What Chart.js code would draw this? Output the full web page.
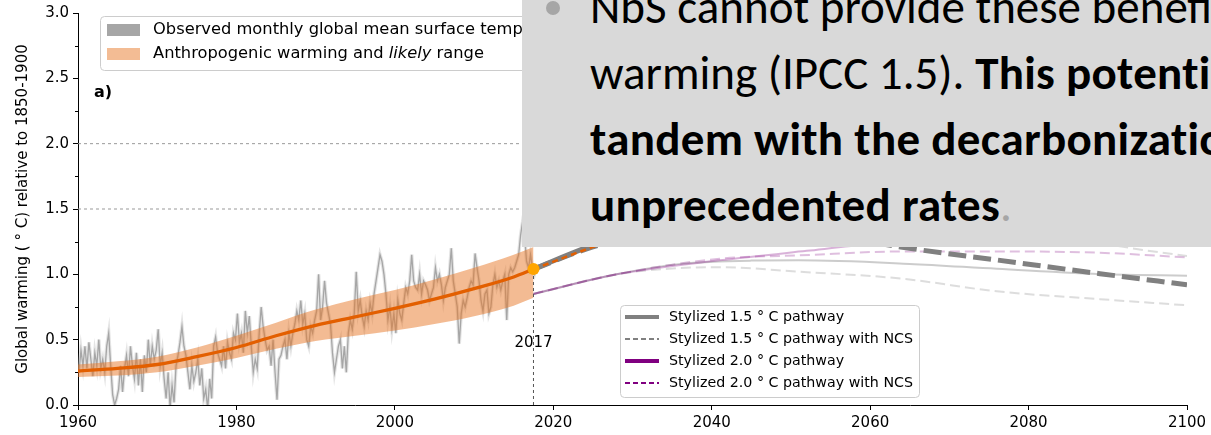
<!DOCTYPE html>
<html>
<head>
<meta charset="utf-8">
<script src="https://cdn.jsdelivr.net/npm/chart.js@4.4.1/dist/chart.umd.min.js"></script>
<style>
  html, body { margin: 0; padding: 0; background: #fff; overflow: hidden; }
  #wrap { position: relative; width: 1211px; height: 435px; }
  #slide {
    position: absolute; left: 522px; top: 0; width: 689px; height: 247px;
    background: #d9d9d9; overflow: hidden; color: #000;
    font-family: Carlito, Calibri, Lato, sans-serif; font-size: 47px;
  }
  #slide .ln { position: absolute; left: 68px; white-space: nowrap; line-height: 1; }
  #slide .bullet { position: absolute; left: 24px; top: 1px; width: 14px; height: 14px; border-radius: 50%; background: #a6a6a6; }
  #slide b { font-weight: 700; letter-spacing: 0.3px; }
</style>
</head>
<body>
<div id="wrap">
  <canvas id="chart" width="1211" height="435"></canvas>
  <div id="slide">
    <div class="bullet"></div>
    <div class="ln" style="top:-16px">NbS cannot provide these benefits alone to limit</div>
    <div class="ln" style="top:50px">warming (IPCC 1.5). <b>This potential must be realized in</b></div>
    <div class="ln" style="top:116px"><b>tandem with the decarbonization of the economy</b></div>
    <div class="ln" style="top:182px"><b>unprecedented rates</b><span style="color:#a6a6a6">.</span></div>
  </div>
</div>
<script>
// Observed global mean surface temperature (4 values per year)
const obsFirstYear = 1960;
const obsQuarterly = [
  [0.25, 0.42, 0.30, 0.45], // 1960
  [0.28, 0.48, 0.35, 0.22],
  [0.40, 0.30, 0.50, 0.28],
  [0.35, 0.25, 0.45, 0.55],
  [0.30, 0.08, 0.00, 0.05],
  [0.12, 0.30, 0.10, 0.28], // 1965
  [0.38, 0.22, 0.45, 0.30],
  [0.20, 0.40, 0.15, 0.35],
  [0.10, 0.38, 0.25, 0.50],
  [0.30, 0.45, 0.35, 0.42],
  [0.58, 0.30, 0.40, 0.20], // 1970
  [0.05, 0.25, -0.02, 0.15],
  [0.02, 0.30, 0.38, 0.48],
  [0.60, 0.45, 0.38, 0.25],
  [0.12, 0.30, 0.18, 0.25],
  [0.35, 0.15, 0.28, 0.05], // 1975
  [0.12, -0.03, 0.20, 0.05],
  [0.45, 0.52, 0.40, 0.35],
  [0.30, 0.45, 0.28, 0.48],
  [0.40, 0.35, 0.55, 0.50],
  [0.70, 0.48, 0.55, 0.40], // 1980
  [0.72, 0.55, 0.68, 0.45],
  [0.25, 0.35, 0.28, 0.55],
  [0.75, 0.60, 0.50, 0.42],
  [0.45, 0.30, 0.50, 0.25],
  [0.04, 0.35, 0.38, 0.45], // 1985
  [0.50, 0.35, 0.55, 0.45],
  [0.55, 0.62, 0.72, 0.65],
  [0.80, 0.62, 0.70, 0.50],
  [0.45, 0.60, 0.55, 0.65],
  [0.72, 1.00, 0.65, 0.75], // 1990
  [0.95, 0.78, 0.70, 0.62],
  [0.40, 0.25, 0.35, 0.45],
  [0.50, 0.28, 0.45, 0.25],
  [0.55, 0.65, 0.58, 0.70],
  [1.02, 0.72, 0.80, 0.68], // 1995
  [0.60, 0.72, 0.65, 0.78],
  [0.70, 0.85, 0.95, 1.05],
  [1.15, 1.10, 1.00, 0.85],
  [0.65, 0.75, 0.58, 0.70],
  [0.55, 0.80, 0.70, 0.65], // 2000
  [0.78, 0.90, 0.85, 0.95],
  [1.15, 0.95, 0.90, 0.88],
  [1.00, 0.85, 0.95, 0.92],
  [0.88, 0.80, 0.85, 0.90],
  [1.05, 0.95, 1.00, 0.92], // 2005
  [0.80, 0.90, 0.95, 1.00],
  [1.20, 0.95, 0.85, 0.75],
  [0.47, 0.70, 0.80, 0.75],
  [0.82, 0.90, 0.95, 0.92],
  [1.16, 1.05, 0.95, 0.80], // 2010
  [0.72, 0.85, 0.88, 0.70],
  [0.75, 0.92, 1.00, 0.90],
  [0.95, 0.88, 0.95, 1.00],
  [0.65, 1.00, 1.05, 1.02],
  [1.05, 1.10, 1.15, 1.30], // 2015
  [1.40, 1.30, 1.10, 1.05],
  [1.15, 1.05, 1.00, 1.05]
];

// Anthropogenic warming and likely range
const anthroYears = [1960, 1965, 1970, 1975, 1980, 1985, 1990, 1995, 2000, 2005, 2010, 2015, 2017.5];
const anthroMid = [0.26, 0.28, 0.31, 0.37, 0.44, 0.53, 0.61, 0.675, 0.74, 0.81, 0.89, 0.98, 1.04];
const anthroLo = [0.215, 0.225, 0.25, 0.30, 0.36, 0.43, 0.49, 0.53, 0.57, 0.62, 0.68, 0.76, 0.82];
const anthroHi = [0.31, 0.335, 0.37, 0.44, 0.53, 0.63, 0.73, 0.81, 0.88, 0.96, 1.05, 1.15, 1.21];

// Stylized pathways after 2017
const p15Years = [2017.5, 2024, 2030, 2040, 2050, 2060, 2075, 2100];
const p15 = [1.04, 1.2, 1.33, 1.45, 1.5, 1.49, 1.43, 1.35];
const p15NcsYears = [2017.5, 2025, 2035, 2045, 2052, 2060, 2066, 2076, 2089, 2100];
const p15Ncs = [1.04, 1.21, 1.36, 1.42, 1.36, 1.25, 1.19, 1.11, 1.005, 0.92];
const anthroExtYears = [2017.5, 2026, 2035];
const anthroExt = [1.04, 1.23, 1.40];
const lowGrayYears = [2017.5, 2028, 2036, 2045, 2051, 2065, 2076, 2090, 2100];
const lowGray = [0.85, 1.0, 1.08, 1.105, 1.107, 1.08, 1.043, 1.0, 0.99];
const lowGrayNcsYears = [2017.5, 2028, 2035, 2041, 2051, 2064, 2076, 2089, 2100];
const lowGrayNcs = [0.85, 1.0, 1.045, 1.055, 1.02, 0.967, 0.87, 0.81, 0.763];
const p20Years = [2017.5, 2028, 2041, 2052, 2060, 2080, 2100];
const p20 = [0.85, 1.0, 1.107, 1.18, 1.23, 1.3, 1.3];
const p20NcsYears = [2017.5, 2028, 2041, 2051, 2064, 2076, 2089, 2100];
const p20Ncs = [0.85, 1.0, 1.12, 1.145, 1.175, 1.175, 1.165, 1.13];
const upperGrayNcsYears = [2082, 2093, 2100];
const upperGrayNcs = [1.32, 1.2, 1.14];

const refLevels = [1.5, 2.0];
const markYear = 2017.5;
const markValue = 1.04;

const xTicks = [1960, 1980, 2000, 2020, 2040, 2060, 2080, 2100];

const FONT = '"DejaVu Sans", sans-serif';

function pts(xs, ys) {
  return xs.map((x, i) => ({ x, y: ys[i] }));
}

const obsPoints = [];
obsQuarterly.forEach((row, yi) => {
  row.forEach((v, q) => obsPoints.push({ x: obsFirstYear + yi + q / 4 + 0.125, y: v }));
});

function line(data, color, width, dash, extra) {
  return Object.assign({
    data, borderColor: color, borderWidth: width, borderDash: dash || [],
    pointRadius: 0, fill: false, cubicInterpolationMode: 'monotone'
  }, extra || {});
}

// first dataset is drawn on top
const datasets = [
  { data: [{ x: markYear, y: markValue }], showLine: false, pointRadius: 6,
    pointBackgroundColor: '#ffa500', pointBorderWidth: 0 },
  line([{ x: markYear, y: 0 }, { x: markYear, y: markValue }], '#555', 1, [3, 3], { cubicInterpolationMode: 'default' }),
  line(pts(anthroYears, anthroMid), '#e35f00', 3.3),
  line(pts(anthroExtYears, anthroExt), '#e35f00', 2.5, [6, 4]),
  line(pts(p15Years, p15), '#808080', 5),
  line(pts(p15NcsYears, p15Ncs), '#808080', 5, [18, 7]),
  line(pts(upperGrayNcsYears, upperGrayNcs), 'rgba(128,128,128,0.27)', 2, [10, 5]),
  line(pts(p20Years, p20), 'rgba(128,0,128,0.3)', 2),
  line(pts(p20NcsYears, p20Ncs), 'rgba(128,0,128,0.25)', 2, [10, 5]),
  line(pts(lowGrayYears, lowGray), 'rgba(128,128,128,0.4)', 2),
  line(pts(lowGrayNcsYears, lowGrayNcs), 'rgba(128,128,128,0.27)', 2, [10, 5]),
  line(pts(anthroYears, anthroHi), 'rgba(0,0,0,0)', 0, null,
    { fill: { target: 12 }, backgroundColor: 'rgba(232,120,40,0.5)' }),
  line(pts(anthroYears, anthroLo), 'rgba(0,0,0,0)', 0),
  line(obsPoints, 'rgba(140,140,140,0.7)', 1.3, null, { cubicInterpolationMode: 'default', tension: 0 }),
  line(obsPoints, 'rgba(195,195,195,0.45)', 3.5, null, { cubicInterpolationMode: 'default', tension: 0 }),
  ...refLevels.map(v => line([{ x: 1960, y: v }, { x: 2100, y: v }], '#999', 1, [3, 3]))
];

function isMajor(v) {
  return Math.abs(v * 2 - Math.round(v * 2)) < 1e-6;
}

function roundBox(ctx, x, y, w, h, r) {
  ctx.beginPath();
  ctx.moveTo(x + r, y);
  ctx.arcTo(x + w, y, x + w, y + h, r);
  ctx.arcTo(x + w, y + h, x, y + h, r);
  ctx.arcTo(x, y + h, x, y, r);
  ctx.arcTo(x, y, x + w, y, r);
  ctx.closePath();
  ctx.fillStyle = 'rgba(255,255,255,0.85)';
  ctx.fill();
  ctx.strokeStyle = '#cccccc';
  ctx.lineWidth = 1;
  ctx.stroke();
}

const extras = {
  id: 'extras',
  afterDraw(chart) {
    const ctx = chart.ctx;
    const ys = chart.scales.y, xs = chart.scales.x;
    const area = chart.chartArea;
    ctx.save();

    // minor y ticks
    ctx.strokeStyle = '#000';
    ctx.lineWidth = 1;
    for (let v = 0.25; v < 3; v += 0.5) {
      const py = Math.round(ys.getPixelForValue(v)) + 0.5;
      ctx.beginPath();
      ctx.moveTo(area.left - 3, py);
      ctx.lineTo(area.left, py);
      ctx.stroke();
    }

    // "2017" label
    ctx.fillStyle = '#000';
    ctx.font = '15px ' + FONT;
    ctx.textAlign = 'center';
    ctx.textBaseline = 'middle';
    ctx.fillText('2017', xs.getPixelForValue(markYear), ys.getPixelForValue(0.47));

    // panel label
    ctx.textAlign = 'left';
    ctx.font = 'bold 16px ' + FONT;
    ctx.fillText('a)', 94, 93);

    // upper legend
    roundBox(ctx, 100.5, 16.5, 480, 54, 4);
    ctx.fillStyle = '#a6a6a6';
    ctx.fillRect(107, 24, 33, 12);
    ctx.fillStyle = '#f3bc94';
    ctx.fillRect(107, 48, 33, 12);
    ctx.fillStyle = '#000';
    ctx.font = '16.3px ' + FONT;
    ctx.fillText('Observed monthly global mean surface temperature', 153, 30);
    let tx = 153;
    const parts = [['Anthropogenic warming and ', ''], ['likely', 'italic '], [' range', '']];
    parts.forEach(([s, st]) => {
      ctx.font = st + '16.3px ' + FONT;
      ctx.fillText(s, tx, 54);
      tx += ctx.measureText(s).width;
    });

    // lower legend
    roundBox(ctx, 620.5, 305.5, 299, 92, 4);
    const items = [
      ['Stylized 1.5 ° C pathway', '#808080', 4, []],
      ['Stylized 1.5 ° C pathway with NCS', '#808080', 2, [5, 3]],
      ['Stylized 2.0 ° C pathway', '#800080', 4, []],
      ['Stylized 2.0 ° C pathway with NCS', '#800080', 2, [5, 3]]
    ];
    ctx.font = '14px ' + FONT;
    const sx = 244 / ctx.measureText(items[1][0]).width;
    items.forEach(([label, col, w, dash], i) => {
      const yy = 317 + i * 22;
      ctx.strokeStyle = col;
      ctx.lineWidth = w;
      ctx.setLineDash(dash);
      ctx.beginPath();
      ctx.moveTo(625, yy);
      ctx.lineTo(659, yy);
      ctx.stroke();
      ctx.setLineDash([]);
      ctx.save();
      ctx.translate(669, yy);
      ctx.scale(sx, 1);
      ctx.fillStyle = '#000';
      ctx.fillText(label, 0, 0);
      ctx.restore();
    });
    ctx.restore();
  }
};

new Chart(document.getElementById('chart'), {
  type: 'line',
  data: { datasets },
  options: {
    responsive: false,
    animation: false,
    devicePixelRatio: 1,
    layout: { padding: { left: 0, right: 24, top: 12, bottom: 0 } },
    plugins: { legend: { display: false }, tooltip: { enabled: false } },
    scales: {
      x: {
        type: 'linear', min: 1960, max: 2100,
        afterBuildTicks: s => { s.ticks = xTicks.map(v => ({ value: v })); },
        afterFit: s => { s.height = 30; },
        ticks: { color: '#000', font: { family: FONT, size: 15 }, padding: 4, maxRotation: 0,
          callback: v => String(v) },
        grid: { drawOnChartArea: false, tickLength: 5, tickColor: '#000' },
        border: { display: true, color: '#000', width: 1 }
      },
      y: {
        min: 0, max: 3,
        afterFit: s => { s.width = 78; },
        ticks: { stepSize: 0.25, autoSkip: false, color: '#000', font: { family: FONT, size: 15 }, padding: 4,
          callback: v => isMajor(v) ? v.toFixed(1) : '' },
        grid: { drawOnChartArea: false, tickLength: 5,
          tickColor: c => (c.tick && isMajor(c.tick.value)) ? '#000' : 'rgba(0,0,0,0)' },
        border: { display: true, color: '#000', width: 1 },
        title: { display: true, text: 'Global warming ( ° C) relative to 1850-1900',
          color: '#000', font: { family: FONT, size: 15 }, padding: { top: 14, bottom: 0 } }
      }
    }
  },
  plugins: [extras]
});
</script>
</body>
</html>
